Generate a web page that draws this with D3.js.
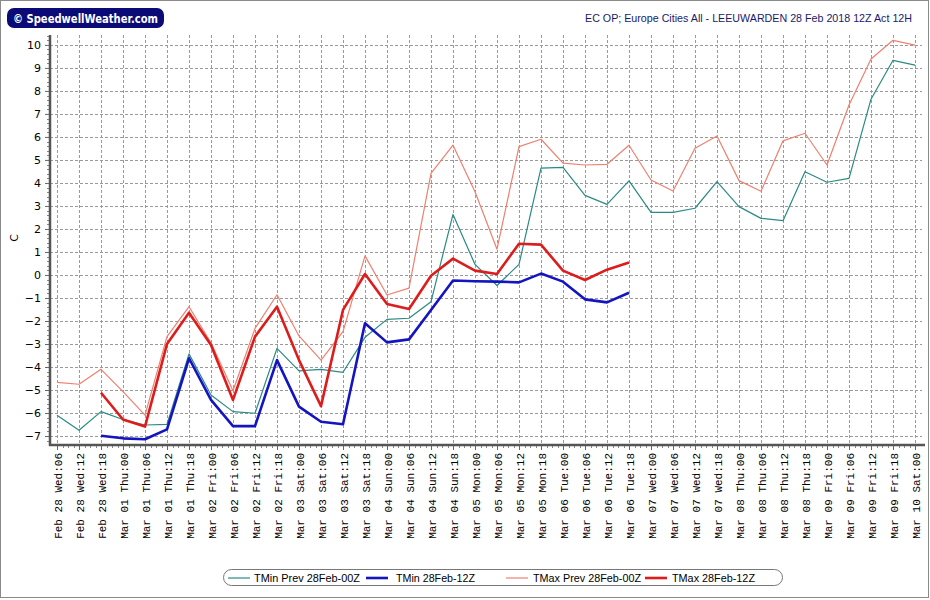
<!DOCTYPE html>
<html><head><meta charset="utf-8">
<script src="https://cdn.jsdelivr.net/npm/d3@7"></script>
<style>body{margin:0;background:#fff;} svg{display:block;}</style>
</head><body>
<svg id="chart" width="930" height="600"></svg>
<script>
const categories = [
"Feb 28 Wed:06","Feb 28 Wed:12","Feb 28 Wed:18",
"Mar 01 Thu:00","Mar 01 Thu:06","Mar 01 Thu:12","Mar 01 Thu:18",
"Mar 02 Fri:00","Mar 02 Fri:06","Mar 02 Fri:12","Mar 02 Fri:18",
"Mar 03 Sat:00","Mar 03 Sat:06","Mar 03 Sat:12","Mar 03 Sat:18",
"Mar 04 Sun:00","Mar 04 Sun:06","Mar 04 Sun:12","Mar 04 Sun:18",
"Mar 05 Mon:00","Mar 05 Mon:06","Mar 05 Mon:12","Mar 05 Mon:18",
"Mar 06 Tue:00","Mar 06 Tue:06","Mar 06 Tue:12","Mar 06 Tue:18",
"Mar 07 Wed:00","Mar 07 Wed:06","Mar 07 Wed:12","Mar 07 Wed:18",
"Mar 08 Thu:00","Mar 08 Thu:06","Mar 08 Thu:12","Mar 08 Thu:18",
"Mar 09 Fri:00","Mar 09 Fri:06","Mar 09 Fri:12","Mar 09 Fri:18",
"Mar 10 Sat:00"];

const tminPrev = [-6.10,-6.75,-5.94,-6.28,-6.52,-6.49,-3.43,-5.22,-5.94,-6.01,-3.19,
 -4.17,-4.10,-4.23,-2.71,-1.93,-1.88,-1.16,2.63,0.46,-0.46,0.46,4.64,4.68,3.46,3.07,4.09,
 2.72,2.72,2.90,4.06,2.97,2.46,2.36,4.49,4.03,4.20,7.64,9.33,9.12];
const tmaxPrev = [-4.67,-4.75,-4.10,-5.07,-6.09,-2.68,-1.38,-2.95,-5.03,-2.32,-0.86,
 -2.65,-3.70,-2.46,0.83,-0.87,-0.57,4.42,5.64,3.62,1.12,5.58,5.90,4.86,4.78,4.81,5.64,
 4.13,3.65,5.51,6.04,4.10,3.64,5.83,6.16,4.78,7.39,9.39,10.20,9.99];
const tmin = [null,null,-6.99,-7.10,-7.14,-6.71,-3.62,-5.43,-6.57,-6.57,-3.70,
 -5.72,-6.38,-6.49,-2.10,-2.93,-2.80,-1.52,-0.24,-0.27,-0.29,-0.32,0.06,-0.29,-1.06,-1.19,-0.77,
 null,null,null,null,null,null,null,null,null,null,null,null,null];
const tmax = [null,null,-5.12,-6.28,-6.59,-3.00,-1.64,-3.04,-5.43,-2.68,-1.38,
 -3.70,-5.70,-1.52,0.04,-1.26,-1.48,-0.03,0.71,0.19,0.04,1.36,1.32,0.19,-0.22,0.23,0.54,
 null,null,null,null,null,null,null,null,null,null,null,null,null];
const yTicks = [-7,-6,-5,-4,-3,-2,-1,0,1,2,3,4,5,6,7,8,9,10];
const seriesNames = ["TMin Prev 28Feb-00Z","TMin 28Feb-12Z","TMax Prev 28Feb-00Z","TMax 28Feb-12Z"];
const titleText = "EC OP; Europe Cities All - LEEUWARDEN 28 Feb 2018 12Z Act 12H";
const logoText = "\u00A9 SpeedwellWeather.com";

const series = [
  {name: seriesNames[0], values: tminPrev, color: "#2a8a84", width: 1.2},
  {name: seriesNames[1], values: tmin, color: "#1414c0", width: 2.6},
  {name: seriesNames[2], values: tmaxPrev, color: "#ee8070", width: 1.2},
  {name: seriesNames[3], values: tmax, color: "#dd1c1c", width: 2.6}
];

const svg = d3.select("#chart");
const x = d3.scalePoint().domain(categories).range([57, 915]);
const y = d3.scaleLinear().domain([-7.39, 10.43]).range([445, 35]);
const pL = 50, pR = 922, pT = 35, pB = 445;

// outer frame
svg.append("rect").attr("x",0.5).attr("y",0.5).attr("width",928).attr("height",597)
  .attr("fill","#fff").attr("stroke","#8a8a8a");

// grid
const grid = svg.append("g").attr("stroke","#9a9a9a").attr("stroke-width",1).attr("stroke-dasharray","3,2");
grid.selectAll("line.h").data(yTicks).join("line").attr("class","h")
  .attr("x1",pL).attr("x2",pR)
  .attr("y1",d=>Math.round(y(d))+0.5).attr("y2",d=>Math.round(y(d))+0.5);
grid.selectAll("line.v").data(categories).join("line").attr("class","v")
  .attr("y1",pT).attr("y2",pB)
  .attr("x1",d=>Math.round(x(d))+0.5).attr("x2",d=>Math.round(x(d))+0.5);

// y axis
const yAxis = d3.axisLeft(y).tickValues(yTicks).tickSize(5).tickPadding(4).tickFormat(d3.format("d"));
const yg = svg.append("g").attr("transform",`translate(${pL},0)`).call(yAxis);
yg.select(".domain").remove();
yg.selectAll(".tick line").attr("stroke","#666");
yg.selectAll(".tick text").attr("font-family","Tahoma, 'DejaVu Sans', sans-serif").attr("font-size",11).attr("fill","#000");
// minor y ticks
const minorY = d3.range(-7.2, 10.41, 0.2).filter(v => Math.abs(v - Math.round(v)) > 0.05);
svg.append("g").attr("stroke","#888").selectAll("line").data(minorY).join("line")
  .attr("x1",pL-3).attr("x2",pL).attr("y1",d=>Math.round(y(d))+0.5).attr("y2",d=>Math.round(y(d))+0.5);

// x axis
const xAxis = d3.axisBottom(x).tickSize(5).tickFormat("");
const xg = svg.append("g").attr("transform",`translate(0,${pB})`).call(xAxis);
xg.select(".domain").remove();
xg.selectAll(".tick line").attr("stroke","#666");
const step = x.step();
const minorX = [];
categories.forEach((c,i)=>{ for(let k=1;k<4;k++){ if(i<categories.length-1) minorX.push(x(c)+k*step/4);} });
svg.append("g").attr("stroke","#888").selectAll("line").data(minorX).join("line")
  .attr("y1",pB).attr("y2",pB+3).attr("x1",d=>Math.round(d)+0.5).attr("x2",d=>Math.round(d)+0.5);

// x labels
svg.append("g").selectAll("text").data(categories).join("text")
  .attr("transform",d=>`translate(${x(d)+1},453) rotate(-90)`)
  .attr("text-anchor","end").attr("dy","0.35em")
  .attr("font-family","'Courier New','Liberation Mono',monospace").attr("font-size",11)
  .attr("fill","#000")
  .text(d=>d);

// axis lines
svg.append("line").attr("x1",pL).attr("x2",pL).attr("y1",pT).attr("y2",pB+1)
  .attr("stroke","#555").attr("stroke-width",2.5);
svg.append("line").attr("x1",pL-1).attr("x2",925).attr("y1",pB).attr("y2",pB)
  .attr("stroke","#555").attr("stroke-width",2.5);

// y axis title
svg.append("text").attr("transform","translate(18,238) rotate(-90)").attr("text-anchor","middle")
  .attr("font-family","Tahoma, 'DejaVu Sans', sans-serif").attr("font-size",11).text("C");

// lines
const line = d3.line().defined(d=>d.v!==null).x(d=>x(d.c)).y(d=>y(d.v));
series.forEach(s=>{
  svg.append("path").datum(categories.map((c,i)=>({c, v:s.values[i]})))
    .attr("d", line).attr("fill","none").attr("stroke",s.color)
    .attr("stroke-width",s.width).attr("stroke-linejoin","round");
});

// title
svg.append("text").attr("x",585).attr("y",22)
  .attr("font-family","'Liberation Sans', Arial, sans-serif").attr("font-size",11.2)
  .attr("fill","#1a1a6a").attr("textLength",327).attr("lengthAdjust","spacingAndGlyphs").text(titleText);

// logo
svg.append("rect").attr("x",7).attr("y",8).attr("width",157).attr("height",20).attr("rx",7)
  .attr("fill","#0b0b78");
svg.append("text").attr("x",13).attr("y",22.5)
  .attr("font-family","Verdana, 'DejaVu Sans', sans-serif").attr("font-weight","bold").attr("font-size",11.5)
  .attr("fill","#fff").attr("textLength",145).attr("lengthAdjust","spacingAndGlyphs").text(logoText);

// legend
const lg = svg.append("g");
lg.append("rect").attr("x",223.5).attr("y",569.5).attr("width",559).attr("height",16).attr("rx",8)
  .attr("fill","#fff").attr("stroke","#777");
const legPos = [{lx:228, tx:254, tw:106},{lx:366, tx:396, tw:79},{lx:506, tx:533, tw:108},{lx:645, tx:672, tw:83}];
series.forEach((s,i)=>{
  const p = legPos[i];
  lg.append("line").attr("x1",p.lx).attr("x2",p.lx+22).attr("y1",578).attr("y2",578)
    .attr("stroke",s.color).attr("stroke-width",s.width);
  lg.append("text").attr("x",p.tx).attr("y",582).attr("font-family","'Liberation Sans', Arial, sans-serif")
    .attr("font-size",11.5).attr("fill","#000").attr("textLength",p.tw).attr("lengthAdjust","spacingAndGlyphs").text(s.name);
});
</script>
</body></html>
